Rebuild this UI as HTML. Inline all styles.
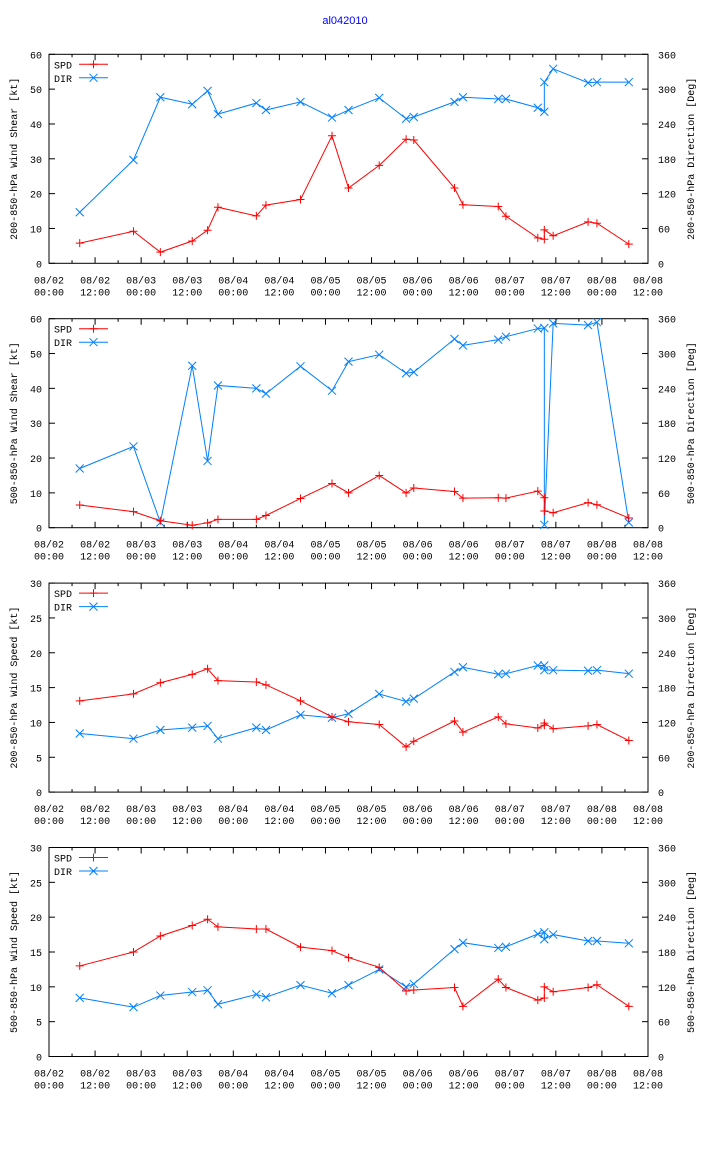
<!DOCTYPE html>
<html><head><meta charset="utf-8"><style>
html,body{margin:0;padding:0;background:#fff;}
svg text{font-family:"Liberation Mono","DejaVu Sans Mono",monospace;font-size:10px;fill:#000;}
</style></head>
<body>
<svg id="chart" width="704" height="1156" viewBox="0 0 704 1156" xmlns="http://www.w3.org/2000/svg">
<rect width="704" height="1156" fill="#fff"/>
<text x="345" y="24" text-anchor="middle" style="fill:#0000ff;font-family:'Liberation Sans',sans-serif;font-size:11px">al042010</text>
</svg>
<script>
// hours since 08/02 00:00
const hours = [8,22,29,37.3,41.3,44,54,56.5,65.5,73.7,78,86,93,95,105.6,107.8,117,119,127.3,129,129,131.3,140.4,142.7,151];
const xTickLabels1 = ["08/02","08/02","08/03","08/03","08/04","08/04","08/05","08/05","08/06","08/06","08/07","08/07","08/08","08/08"];
const xTickLabels2 = ["00:00","12:00","00:00","12:00","00:00","12:00","00:00","12:00","00:00","12:00","00:00","12:00","00:00","12:00"];

const spd1 = [5.8,9.2,3.2,6.4,9.5,16.1,13.6,16.7,18.3,36.6,21.6,28.1,35.6,35.4,21.6,16.8,16.3,13.5,7.3,6.9,9.6,7.9,11.9,11.5,5.5];
const dir1 = [88,178,286,274,297,257,276,264,278,251,264,285,249,252,278,286,283,283,268,261,312,335,311,312,312];
const spd2 = [6.5,4.6,2.0,0.7,1.4,2.4,2.4,3.5,8.4,12.7,10.0,15.0,10.0,11.4,10.4,8.5,8.6,8.5,10.5,8.6,4.8,4.3,7.2,6.6,2.8];
const dir2 = [102,140,9,279,115,245,240,231,278,236,286,298,266,268,325,314,324,329,343,344,5,352,349,354,9];
const spd3 = [13.1,14.1,15.7,16.9,17.7,16.0,15.8,15.4,13.1,10.8,10.1,9.7,6.5,7.3,10.2,8.6,10.8,9.8,9.2,9.6,9.9,9.1,9.5,9.7,7.4];
const dir3 = [101,92,107,111,114,92,111,107,133,128,135,169,156,161,207,215,203,204,218,218,210,210,209,210,204];
const spd4 = [13.0,15.0,17.3,18.8,19.7,18.6,18.3,18.3,15.7,15.2,14.2,12.8,9.4,9.55,9.9,7.2,11.1,9.9,8.1,8.4,10.0,9.3,9.9,10.3,7.2];
const dir4 = [101,85,105,111,114,90,107,102,123,109,123,150,120,125,185,196,187,189,211,214,202,210,199,199,195];

const leftMax = [60,60,30,30];
const leftStep = [10,10,5,5];
const leftTitles = ["200-850-hPa Wind Shear [kt]","500-850-hPa Wind Shear [kt]","200-850-hPa Wind Speed [kt]","500-850-hPa Wind Speed [kt]"];
const rightTitles = ["200-850-hPa Direction [Deg]","500-850-hPa Direction [Deg]","200-850-hPa Direction [Deg]","500-850-hPa Direction [Deg]"];
const spdSeries = [spd1,spd2,spd3,spd4];
const dirSeries = [dir1,dir2,dir3,dir4];

const NS='http://www.w3.org/2000/svg';
const svg=document.getElementById('chart');
function mk(tag,attrs,parent){const e=document.createElementNS(NS,tag);for(const k in attrs)e.setAttribute(k,attrs[k]);(parent||svg).appendChild(e);return e;}
const L=49,R=648,H=209,HMAX=156;
const RED='#ff0000',BLUE='#0080ff';
function xs(h){return L+h*(R-L)/HMAX;}
function plus(g,x,y,c){mk('path',{d:`M${x-4} ${y}H${x+4}M${x} ${y-4}V${y+4}`,stroke:c,'stroke-width':1,fill:'none'},g);}
function cross(g,x,y,c){mk('path',{d:`M${x-4} ${y-4}L${x+4} ${y+4}M${x-4} ${y+4}L${x+4} ${y-4}`,stroke:c,'stroke-width':1,fill:'none'},g);}

for(let p=0;p<4;p++){
  const T=54.3+264.4*p, B=T+H;
  const g=mk('g',{});
  
  
  const ysL=v=>B-v/leftMax[p]*H;
  const ysR=v=>B-v/360*H;
  // frame
  const fr=mk('rect',{x:L,y:T,width:R-L,height:H,fill:'none',stroke:'#000','stroke-width':1},g);
  
  
  // x ticks
  for(let i=0;i<=26;i++){
    const x=xs(i*6), len=(i%2===0)?6:3;
    mk('path',{d:`M${x} ${B}V${B-len}M${x} ${T}V${T+len}`,stroke:'#000','stroke-width':1},g);
    if(i%2===0){
      const k=i/2;
      const t1=mk('text',{x:x,y:B+20,'text-anchor':'middle'},g);t1.textContent=xTickLabels1[k];
      
      
      const t2=mk('text',{x:x,y:B+32,'text-anchor':'middle'},g);t2.textContent=xTickLabels2[k];
      
      
    }
  }
  // left ticks
  for(let v=0;v<=leftMax[p];v+=leftStep[p]){
    const y=ysL(v);
    mk('path',{d:`M${L} ${y}H${L+6}`,stroke:'#000'},g);
    const t=mk('text',{x:L-7,y:y+4,'text-anchor':'end'},g);t.textContent=String(v);
    
    
  }
  // right ticks
  for(let v=0;v<=360;v+=60){
    const y=ysR(v);
    mk('path',{d:`M${R} ${y}H${R-6}`,stroke:'#000'},g);
    const t=mk('text',{x:R+10,y:y+4,'text-anchor':'start'},g);t.textContent=String(v);
    
    
  }
  const yl=mk('text',{x:0,y:0,'text-anchor':'middle',transform:`translate(17 ${T+H/2}) rotate(-90)`},g);yl.textContent=leftTitles[p];
  
  
  const yr=mk('text',{x:0,y:0,'text-anchor':'middle',transform:`translate(694 ${T+H/2}) rotate(-90)`},g);yr.textContent=rightTitles[p];
  
  
  // series
  const sp=spdSeries[p], dr=dirSeries[p];
  const gd=mk('g',{},g);
  
  
  mk('polyline',{points:hours.map((h,i)=>xs(h)+','+ysR(dr[i])).join(' '),fill:'none',stroke:BLUE,'stroke-width':1},gd);
  hours.forEach((h,i)=>cross(gd,xs(h),ysR(dr[i]),BLUE));
  const gs=mk('g',{},g);
  
  
  mk('polyline',{points:hours.map((h,i)=>xs(h)+','+ysL(sp[i])).join(' '),fill:'none',stroke:RED,'stroke-width':1},gs);
  hours.forEach((h,i)=>plus(gs,xs(h),ysL(sp[i]),RED));
  // legend
  const lg=mk('g',{},g);
  
  
  const ly1=T+10, ly2=T+23.5;
  const l1=mk('text',{x:54,y:ly1+4},lg);l1.textContent='SPD';
  
  
  mk('path',{d:`M79 ${ly1}H108`,stroke:RED},lg);plus(lg,93.5,ly1,RED);
  const l2=mk('text',{x:54,y:ly2+4},lg);l2.textContent='DIR';
  
  
  mk('path',{d:`M79 ${ly2}H108`,stroke:BLUE},lg);cross(lg,93.5,ly2,BLUE);
}
</script>
</body></html>
